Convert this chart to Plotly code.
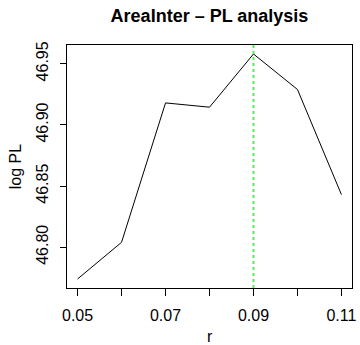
import plotly.graph_objects as go

# profile likelihood for the AreaInter interaction radius
r_values = [0.05, 0.06, 0.07, 0.08, 0.09, 0.10, 0.11]
log_pl = [46.774, 46.804, 46.918, 46.9145, 46.958, 46.929, 46.843]
best_r = 0.09

x_tickvals = [0.05, 0.06, 0.07, 0.08, 0.09, 0.10, 0.11]
x_ticktext = ["0.05", "", "0.07", "", "0.09", "", "0.11"]
y_tickvals = [46.80, 46.85, 46.90, 46.95]
y_ticktext = ["46.80", "46.85", "46.90", "46.95"]

font = "Liberation Sans, Arial, sans-serif"

fig = go.Figure()
fig.add_trace(
    go.Scatter(
        x=r_values,
        y=log_pl,
        mode="lines",
        line=dict(color="black", width=1),
        showlegend=False,
    )
)

# R-style 4% padding on both axes
xpad = (max(r_values) - min(r_values)) * 0.04
ypad = (max(log_pl) - min(log_pl)) * 0.04

fig.add_vline(x=best_r, line=dict(color="#55ee55", width=2, dash="dot"))

fig.update_layout(
    width=360,
    height=345,
    margin=dict(l=67, r=4, t=45, b=57),
    paper_bgcolor="white",
    plot_bgcolor="white",
    font=dict(family=font, size=16, color="black"),
    title=dict(
        text="<b>AreaInter \u2013 PL analysis</b>",
        xref="paper",
        x=0.5,
        xanchor="center",
        y=0.955,
        yanchor="middle",
        font=dict(size=18),
    ),
    xaxis=dict(
        range=[min(r_values) - xpad, max(r_values) + xpad],
        tickvals=x_tickvals,
        ticktext=x_ticktext,
        ticks="outside",
        ticklen=7,
        tickcolor="black",
        showline=True,
        mirror=True,
        linecolor="black",
        linewidth=1,
        showgrid=False,
        zeroline=False,
        ticklabelstandoff=6,
        ticklabeloverflow="allow",
    ),
    yaxis=dict(
        range=[min(log_pl) - ypad, max(log_pl) + ypad],
        tickvals=y_tickvals,
        ticktext=y_ticktext,
        tickangle=-90,
        ticks="outside",
        ticklen=6,
        tickcolor="black",
        showline=True,
        mirror=True,
        linecolor="black",
        linewidth=1,
        showgrid=False,
        zeroline=False,
        ticklabelstandoff=6,
    ),
    annotations=[
        dict(
            text="r",
            xref="paper",
            yref="paper",
            x=0.5,
            y=-0.2,
            xanchor="center",
            yanchor="middle",
            showarrow=False,
        ),
        dict(
            text="log PL",
            xref="paper",
            yref="paper",
            x=-0.18,
            y=0.5,
            xanchor="center",
            yanchor="middle",
            textangle=-90,
            showarrow=False,
        ),
    ],
)

# drop the default body margin so the figure sits at the page corner
fig.write_html(
    "out.html",
    config={"displayModeBar": False},
    post_script="document.body.style.margin='0';",
)
